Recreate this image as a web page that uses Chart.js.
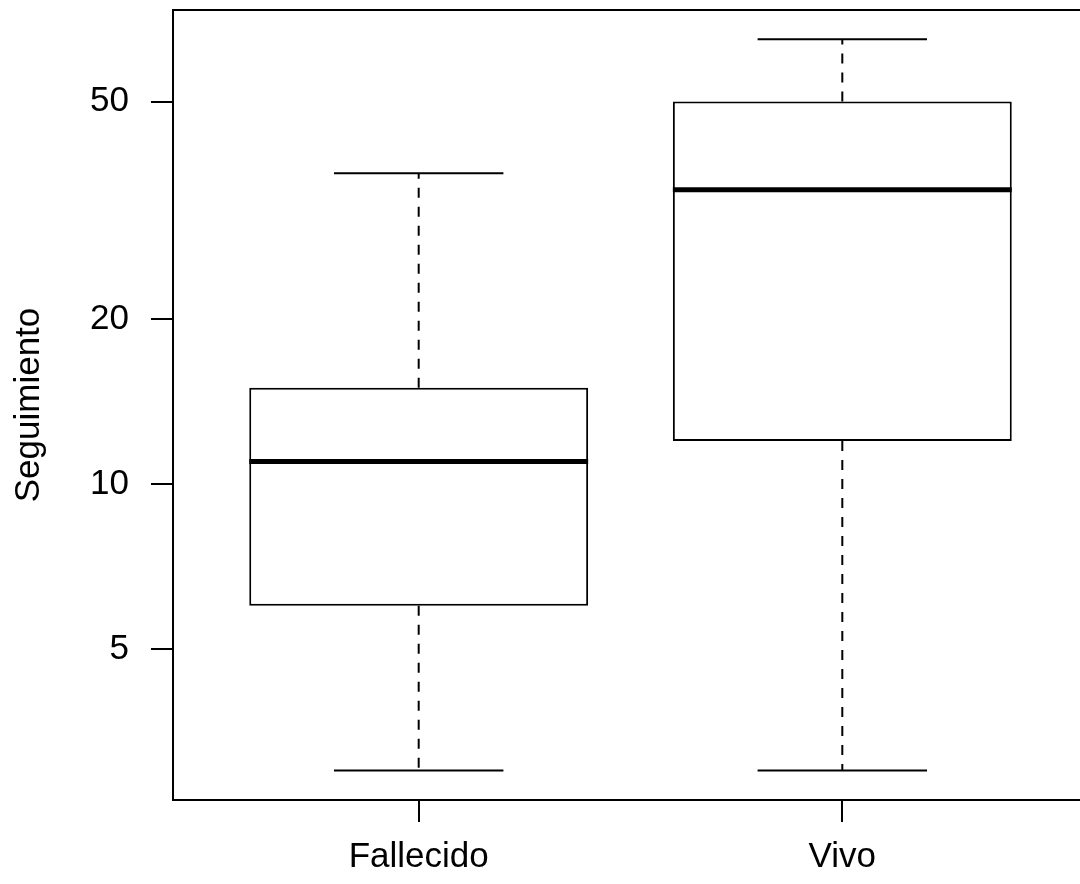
<!DOCTYPE html>
<html>
<head>
<meta charset="utf-8">
<script src="https://cdn.jsdelivr.net/npm/chart.js@4.4.1/dist/chart.umd.min.js"></script>
<style>
  html, body { margin: 0; padding: 0; background: #fff; overflow: hidden; }
  #wrap { width: 1080px; height: 884px; overflow: hidden; }
</style>
</head>
<body>
<div id="wrap"><canvas id="chart" width="1100" height="884"></canvas></div>
<script>
// data (log scale)
const categories = ['Fallecido', 'Vivo'];
const whiskerLow = [3, 3];
const lowerQuartile = [6, 12];
const medians = [11, 34.5];
const upperQuartile = [15, 50];
const whiskerHigh = [37, 65];
const yTicks = [5, 10, 20, 50];

const FONT = "'Liberation Sans', Arial, Helvetica, sans-serif";

// whiskers, staples, medians and the frame, positioned via the chart scales
const boxExtras = {
  id: 'boxExtras',
  afterDatasetsDraw(chart) {
    const { ctx, chartArea, scales: { x, y } } = chart;
    ctx.save();
    ctx.strokeStyle = '#000';
    categories.forEach((c, i) => {
      const pos = i + 1;
      const cx = x.getPixelForValue(pos);
      // dashed whiskers
      ctx.lineWidth = 2;
      ctx.setLineDash([10, 9]);
      ctx.beginPath();
      ctx.moveTo(cx, y.getPixelForValue(upperQuartile[i]));
      ctx.lineTo(cx, y.getPixelForValue(whiskerHigh[i]));
      ctx.moveTo(cx, y.getPixelForValue(lowerQuartile[i]));
      ctx.lineTo(cx, y.getPixelForValue(whiskerLow[i]));
      ctx.stroke();
      ctx.setLineDash([]);
      // staples
      const sl = x.getPixelForValue(pos - 0.2), sr = x.getPixelForValue(pos + 0.2);
      ctx.beginPath();
      [whiskerHigh[i], whiskerLow[i]].forEach(v => {
        const py = y.getPixelForValue(v);
        ctx.moveTo(sl, py);
        ctx.lineTo(sr, py);
      });
      ctx.stroke();
      // median
      ctx.lineWidth = 5;
      const my = y.getPixelForValue(medians[i]);
      ctx.beginPath();
      ctx.moveTo(x.getPixelForValue(pos - 0.4), my);
      ctx.lineTo(x.getPixelForValue(pos + 0.4), my);
      ctx.stroke();
    });
    // plot frame
    ctx.lineWidth = 2;
    ctx.strokeRect(chartArea.left, chartArea.top, chartArea.right - chartArea.left, chartArea.bottom - chartArea.top);
    ctx.restore();
  }
};

new Chart(document.getElementById('chart'), {
  type: 'bar',
  data: {
    datasets: [{
      data: categories.map((c, i) => ({ x: i + 1, y: [lowerQuartile[i], upperQuartile[i]] })),
      backgroundColor: '#ffffff',
      borderColor: '#000000',
      borderWidth: 2,
      borderSkipped: false,
      barPercentage: 0.8,
      categoryPercentage: 1.0
    }]
  },
  options: {
    responsive: false,
    animation: false,
    layout: { padding: { top: 10, right: 12, left: 0, bottom: 0 } },
    plugins: {
      legend: { display: false },
      tooltip: { enabled: false },
      title: { display: false }
    },
    scales: {
      x: {
        type: 'linear',
        min: 0.42,
        max: 2.58,
        offset: false,
        afterBuildTicks: (scale) => { scale.ticks = categories.map((c, i) => ({ value: i + 1 })); },
        afterFit: (scale) => {
          scale.height = 84;
          scale.paddingLeft = 0;
          scale.paddingRight = 0;
        },
        ticks: {
          callback: (v) => categories[Math.round(v) - 1] || '',
          color: '#000',
          font: { family: FONT, size: 35 },
          padding: 14,
          maxRotation: 0,
          autoSkip: false
        },
        grid: { display: true, offset: false, drawOnChartArea: false, drawTicks: true, tickLength: 22, color: '#000', lineWidth: 2 },
        border: { display: true, color: '#000', width: 2 }
      },
      y: {
        type: 'logarithmic',
        min: 2.65,
        max: 73.5,
        afterBuildTicks: (scale) => { scale.ticks = yTicks.map(v => ({ value: v })); },
        afterFit: (scale) => {
          scale.width = 173;
          scale.paddingTop = 0;
          scale.paddingBottom = 0;
        },
        ticks: {
          callback: (v) => String(v),
          color: '#000',
          font: { family: FONT, size: 35 },
          padding: 22,
          autoSkip: false
        },
        grid: { display: true, drawOnChartArea: false, drawTicks: true, tickLength: 22, color: '#000', lineWidth: 2 },
        border: { display: true, color: '#000', width: 2 },
        title: {
          display: true,
          text: 'Seguimiento',
          color: '#000',
          font: { family: FONT, size: 35 },
          padding: { top: 8, bottom: 0 }
        }
      }
    }
  },
  plugins: [boxExtras]
});
</script>
</body>
</html>
